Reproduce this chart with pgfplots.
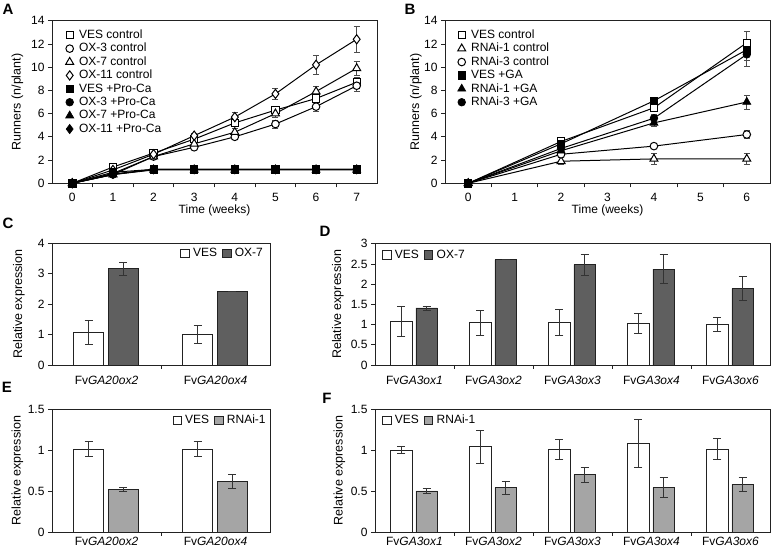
\documentclass[border=0pt]{standalone}
\usepackage{fontspec}
\setmainfont{Liberation Sans}
\usepackage{pgfplots}
\pgfplotsset{compat=1.18}
\definecolor{dk}{HTML}{5F5F5F}
\definecolor{lt}{HTML}{A5A5A5}
\definecolor{eb}{HTML}{333333}
\definecolor{ax}{HTML}{222222}
\pgfplotsset{
 base/.style={
  scale only axis,
  axis line style={line width=0.8pt, ax},
  tick style={line width=0.8pt, ax},
  tick align=outside, major tick length=4pt, minor tick length=4pt,
  /pgf/number format/assume math mode=true,
  tick label style={font=\fontsize{12}{14}\selectfont},
  label style={font=\fontsize{12}{14}\selectfont},
  legend style={font=\fontsize{12}{14}\selectfont, draw=none, fill=none, inner sep=0pt,
    nodes={inner sep=0.9pt, text height=9pt, text depth=2.6pt}},
  ytick pos=left, xtick pos=bottom,
  every major x tick/.append style={draw=none},
  minor x tick num=1,
  every minor x tick/.append style={line width=0.8pt, ax},
  every axis y label/.style={at={(rel axis cs:0,0.5)}, anchor=center, rotate=90,
    font=\fontsize{12.5}{14}\selectfont},
  clip=false,
 },
 lineax/.style={base, width=325pt, height=162.6pt, xmin=-0.5, ymin=0, ymax=14,
  ytick={0,2,...,14},
  xlabel={Time (weeks)}, ylabel={Runners (n/plant)},
  xlabel style={at={(rel axis cs:0.5,0)}, anchor=center, yshift=-27pt},
  xticklabel style={yshift=-2.5pt},
  legend cell align=left,
  legend image code/.code={\path (-4pt,0pt) (8pt,0pt); \draw[#1, only marks] plot coordinates {(0pt,0pt)};},
 },
 barax/.style={base, ymin=0, xmin=-0.5,
  ylabel={Relative expression},
  xticklabel style={yshift=-4pt},
  legend columns=2,
  legend image code/.code={\draw[#1, line width=0.7pt] (0pt,-4.2pt) rectangle (8.4pt,4.2pt); \path (11pt,0pt);},
  legend style={/tikz/every even column/.append style={column sep=4.2pt}},
 },
 ln/.style={black, line width=1pt, mark options={solid, line width=0.7pt},
   error bars/.cd, y dir=both, y explicit,
   error bar style={line width=0.7pt, black!70},
   error mark options={line width=0.7pt, black!70, mark size=3pt, rotate=90},
   /pgfplots/.cd},
 br/.style={line width=0.8pt, draw=ax, ybar, bar shift=0pt,
   error bars/.cd, y dir=both, y explicit,
   error bar style={line width=0.9pt, eb},
   error mark options={line width=0.9pt, eb, mark size=4pt, rotate=90},
   /pgfplots/.cd},
 sq/.style={mark=square*, mark size=3.6pt},
 ci/.style={mark=*, mark size=3.8pt},
 tr/.style={mark=triangle*, mark size=4.6pt},
 di/.style={mark=diamond*, mark size=4.6pt},
 op/.style={mark options={fill=white}},
}
\begin{document}
\begin{tikzpicture}
\useasboundingbox (0,0) rectangle (772pt,548pt);
\tikzset{lab/.style={font=\bfseries\fontsize{15}{15}\selectfont}}
\node[lab] at (8pt,539pt) {A};
\node[lab] at (410pt,539pt) {B};
\node[lab] at (8pt,325pt) {C};
\node[lab] at (325pt,317pt) {D};
\node[lab] at (7pt,161pt) {E};
\node[lab] at (327pt,150pt) {F};

% ---------------- A ----------------
\begin{axis}[lineax, at={(52pt,364.7pt)}, anchor=south west, xmax=7.5, xtick={0,...,7},
  ylabel style={yshift=34.5pt},
  legend style={at={(rel axis cs:0.04,0.953)}, anchor=north west}]
\addplot[ln, sq, op] table[x=x,y=y,y error=e,row sep=\\]{
x y e\\ 0 0 0\\ 1 1.4 0.12\\ 2 2.6 0.15\\ 3 3.8 0.2\\ 4 5.2 0.25\\ 5 6.3 0.3\\ 6 7.3 0.35\\ 7 8.7 0.4\\};
\addlegendentry{VES control}
\addplot[ln, ci, op] table[x=x,y=y,y error=e,row sep=\\]{
x y e\\ 0 0 0\\ 1 0.85 0.1\\ 2 2.3 0.15\\ 3 3.1 0.2\\ 4 4.0 0.25\\ 5 5.1 0.35\\ 6 6.6 0.4\\ 7 8.4 0.5\\};
\addlegendentry{OX-3 control}
\addplot[ln, tr, op] table[x=x,y=y,y error=e,row sep=\\]{
x y e\\ 0 0 0\\ 1 0.75 0.1\\ 2 2.3 0.15\\ 3 3.4 0.2\\ 4 4.4 0.3\\ 5 6.0 0.35\\ 6 7.9 0.45\\ 7 9.9 0.6\\};
\addlegendentry{OX-7 control}
\addplot[ln, di, op] table[x=x,y=y,y error=e,row sep=\\]{
x y e\\ 0 0 0\\ 1 1.15 0.1\\ 2 2.5 0.2\\ 3 4.1 0.2\\ 4 5.7 0.4\\ 5 7.7 0.5\\ 6 10.2 0.8\\ 7 12.4 1.1\\};
\addlegendentry{OX-11 control}
\addplot[ln, sq] table[x=x,y=y,y error=e,row sep=\\]{
x y e\\ 0 0 0\\ 1 0.95 0.05\\ 2 1.2 0.05\\ 3 1.2 0.05\\ 4 1.2 0.05\\ 5 1.2 0.05\\ 6 1.2 0.05\\ 7 1.2 0.05\\};
\addlegendentry{VES +Pro-Ca}
\addplot[ln, ci] table[x=x,y=y,y error=e,row sep=\\]{
x y e\\ 0 0 0\\ 1 0.75 0.05\\ 2 1.2 0.05\\ 3 1.2 0.05\\ 4 1.2 0.05\\ 5 1.2 0.05\\ 6 1.2 0.05\\ 7 1.2 0.05\\};
\addlegendentry{OX-3 +Pro-Ca}
\addplot[ln, tr] table[x=x,y=y,y error=e,row sep=\\]{
x y e\\ 0 0 0\\ 1 0.75 0.05\\ 2 1.15 0.05\\ 3 1.15 0.05\\ 4 1.15 0.05\\ 5 1.15 0.05\\ 6 1.15 0.05\\ 7 1.15 0.05\\};
\addlegendentry{OX-7 +Pro-Ca}
\addplot[ln, di] table[x=x,y=y,y error=e,row sep=\\]{
x y e\\ 0 0 0\\ 1 0.8 0.05\\ 2 1.2 0.05\\ 3 1.2 0.05\\ 4 1.2 0.05\\ 5 1.2 0.05\\ 6 1.2 0.05\\ 7 1.2 0.05\\};
\addlegendentry{OX-11 +Pro-Ca}
\end{axis}

% ---------------- B ----------------
\begin{axis}[lineax, at={(445pt,364.7pt)}, anchor=south west, xmax=6.5, xtick={0,...,6},
  ylabel style={yshift=29pt},
  legend style={at={(rel axis cs:0.037,0.953)}, anchor=north west}]
\addplot[ln, sq, op] table[x=x,y=y,y error=e,row sep=\\]{
x y e\\ 0 0 0\\ 2 3.6 0.2\\ 4 6.5 0.3\\ 6 12.1 1.0\\};
\addlegendentry{VES control}
\addplot[ln, tr, op] table[x=x,y=y,y error=e,row sep=\\]{
x y e\\ 0 0 0\\ 2 1.9 0.3\\ 4 2.1 0.5\\ 6 2.1 0.5\\};
\addlegendentry{RNAi-1 control}
\addplot[ln, ci, op] table[x=x,y=y,y error=e,row sep=\\]{
x y e\\ 0 0 0\\ 2 2.5 0.2\\ 4 3.2 0.2\\ 6 4.2 0.35\\};
\addlegendentry{RNAi-3 control}
\addplot[ln, sq] table[x=x,y=y,y error=e,row sep=\\]{
x y e\\ 0 0 0\\ 2 3.4 0.2\\ 4 7.1 0.3\\ 6 11.5 0.9\\};
\addlegendentry{VES +GA}
\addplot[ln, tr] table[x=x,y=y,y error=e,row sep=\\]{
x y e\\ 0 0 0\\ 2 2.8 0.2\\ 4 5.2 0.3\\ 6 7.0 0.6\\};
\addlegendentry{RNAi-1 +GA}
\addplot[ln, ci] table[x=x,y=y,y error=e,row sep=\\]{
x y e\\ 0 0 0\\ 2 3.0 0.2\\ 4 5.6 0.3\\ 6 11.1 1.0\\};
\addlegendentry{RNAi-3 +GA}
\end{axis}

% ---------------- C ----------------
\begin{axis}[barax, at={(52pt,183pt)}, anchor=south west, width=218pt, height=121.7pt,
  xmax=1.5, ymax=4, ytick={0,1,...,4}, xtick={0,1},
  xticklabels={Fv\textit{GA20ox2}, Fv\textit{GA20ox4}},
  ylabel style={yshift=33pt},
  legend style={at={(rel axis cs:0.972,0.975)}, anchor=north east}]
\addplot[br, bar width=30pt, fill=white] table[x=x,y=y,y error=e,row sep=\\]{
x y e\\ -0.165 1.07 0.4\\ 0.835 1.01 0.29\\};
\addlegendentry{VES}
\addplot[br, bar width=30pt, fill=dk] table[x=x,y=y,y error=e,row sep=\\]{
x y e\\ 0.155 3.16 0.21\\ 1.155 2.41 0\\};
\addlegendentry{OX-7}
\end{axis}

% ---------------- D ----------------
\begin{axis}[barax, at={(375pt,183pt)}, anchor=south west, width=395pt, height=121.3pt,
  xmax=4.5, ymax=3, ytick={0,0.5,...,3}, xtick={0,...,4},
  xticklabels={Fv\textit{GA3ox1}, Fv\textit{GA3ox2}, Fv\textit{GA3ox3}, Fv\textit{GA3ox4}, Fv\textit{GA3ox6}},
  ylabel style={yshift=37pt},
  legend style={at={(rel axis cs:0.018,0.965)}, anchor=north west}]
\addplot[br, bar width=21.5pt, fill=white] table[x=x,y=y,y error=e,row sep=\\]{
x y e\\ -0.165 1.07 0.37\\ 0.835 1.05 0.31\\ 1.835 1.05 0.33\\ 2.835 1.03 0.25\\ 3.835 1.01 0.17\\};
\addlegendentry{VES}
\addplot[br, bar width=21.5pt, fill=dk] table[x=x,y=y,y error=e,row sep=\\]{
x y e\\ 0.155 1.41 0.05\\ 1.155 2.6 0\\ 2.155 2.48 0.26\\ 3.155 2.37 0.36\\ 4.155 1.89 0.29\\};
\addlegendentry{OX-7}
\end{axis}

% ---------------- E ----------------
\begin{axis}[barax, at={(52pt,16pt)}, anchor=south west, width=218pt, height=123pt,
  xmax=1.5, ymax=1.5, ytick={0,0.5,...,1.5}, xtick={0,1},
  xticklabels={Fv\textit{GA20ox2}, Fv\textit{GA20ox4}},
  xticklabel style={yshift=6.5pt},
  ylabel style={yshift=34.5pt},
  legend style={at={(rel axis cs:0.985,0.965)}, anchor=north east}]
\addplot[br, bar width=30pt, fill=white] table[x=x,y=y,y error=e,row sep=\\]{
x y e\\ -0.165 1.01 0.09\\ 0.835 1.01 0.09\\};
\addlegendentry{VES}
\addplot[br, bar width=30pt, fill=lt] table[x=x,y=y,y error=e,row sep=\\]{
x y e\\ 0.155 0.52 0.025\\ 1.155 0.615 0.085\\};
\addlegendentry{RNAi-1}
\end{axis}

% ---------------- F ----------------
\begin{axis}[barax, at={(375pt,16pt)}, anchor=south west, width=395pt, height=123pt,
  xmax=4.5, ymax=1.5, ytick={0,0.5,...,1.5}, xtick={0,...,4},
  xticklabels={Fv\textit{GA3ox1}, Fv\textit{GA3ox2}, Fv\textit{GA3ox3}, Fv\textit{GA3ox4}, Fv\textit{GA3ox6}},
  xticklabel style={yshift=6.5pt},
  ylabel style={yshift=35.5pt},
  legend style={at={(rel axis cs:0.018,0.965)}, anchor=north west}]
\addplot[br, bar width=21.5pt, fill=white] table[x=x,y=y,y error=e,row sep=\\]{
x y e\\ -0.165 1.0 0.04\\ 0.835 1.04 0.2\\ 1.835 1.01 0.12\\ 2.835 1.08 0.29\\ 3.835 1.01 0.13\\};
\addlegendentry{VES}
\addplot[br, bar width=21.5pt, fill=lt] table[x=x,y=y,y error=e,row sep=\\]{
x y e\\ 0.155 0.5 0.03\\ 1.155 0.54 0.08\\ 2.155 0.70 0.09\\ 3.155 0.54 0.12\\ 4.155 0.58 0.08\\};
\addlegendentry{RNAi-1}
\end{axis}
\end{tikzpicture}
\end{document}
